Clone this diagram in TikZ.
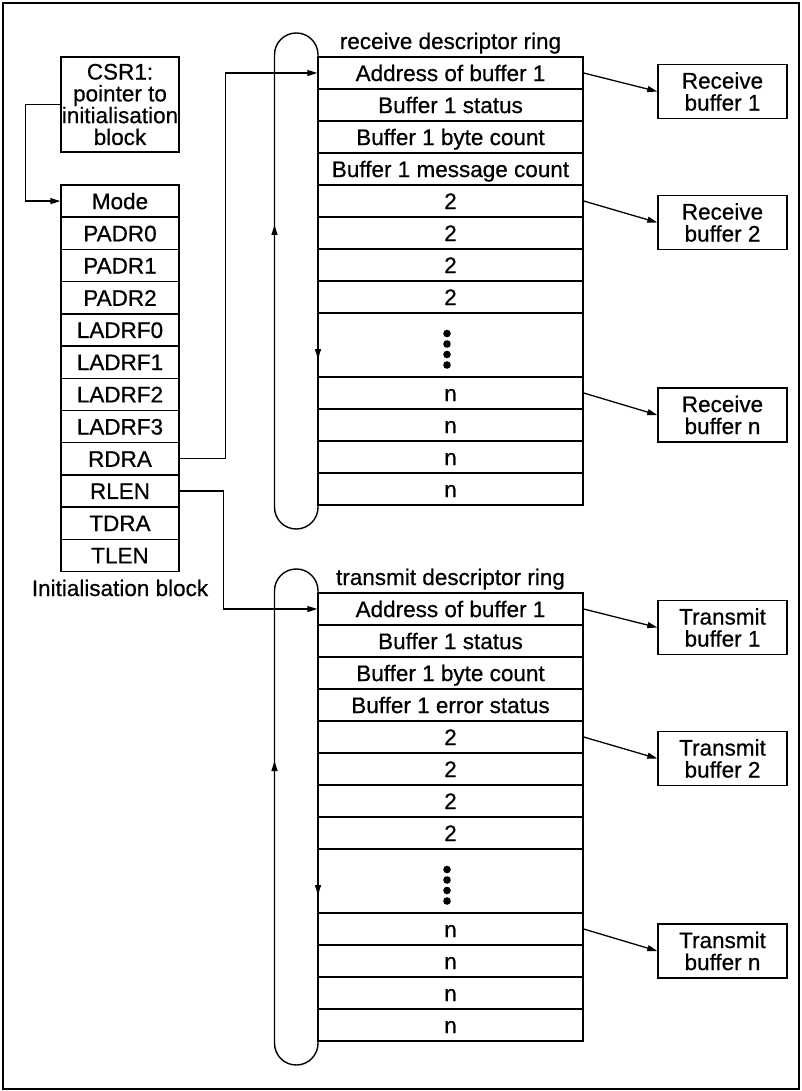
\documentclass[tikz,border=0pt]{standalone}
\usepackage{fontspec}
\setmainfont[FakeBold=0.6]{Liberation Sans}
\usetikzlibrary{arrows.meta}
\tikzset{
  lbl/.style={font=\fontsize{22.5pt}{21.8pt}\selectfont, inner sep=0pt},
  cell/.style={lbl, draw, line width=1.4pt, minimum width=265pt, minimum height=32pt, text height=16.1pt, text depth=0pt},
  icell/.style={lbl, draw, line width=1.4pt, minimum width=118pt, minimum height=32.2pt, text height=16.1pt, text depth=0pt},
  bufbox/.style={lbl, draw, line width=1.4pt, minimum width=129pt, minimum height=54pt, align=center, font=\fontsize{22.5pt}{22pt}\selectfont},
  pill/.style={draw, line width=1.4pt, rounded corners=21.7pt, minimum width=43.5pt, minimum height=496pt, inner sep=0pt},
  conn/.style={line width=1.3pt, -{Triangle[length=10pt,width=6pt]}},
}
\newcommand\descring[5]{%
\begin{scope}[shift={(0,#2)}]
\node[pill] (#1pill) at (296.25,281) {};
\node[lbl, anchor=base] (#1title) at (450.5,49) {#3};
\node[cell] (#1r1) at (450.5,73) {Address of buffer 1};
\node[cell] (#1r2) at (450.5,105) {Buffer 1 status};
\node[cell] (#1r3) at (450.5,137) {Buffer 1 byte count};
\node[cell] (#1r4) at (450.5,169) {#4};
\node[cell] (#1r5) at (450.5,201) {2};
\node[cell] (#1r6) at (450.5,233) {2};
\node[cell] (#1r7) at (450.5,265) {2};
\node[cell] (#1r8) at (450.5,297) {2};
\node[cell, minimum height=64pt] (#1r9) at (450.5,345) {};
\foreach \yy in {333.5,344,354.5,365} \fill (447,\yy) circle[radius=3.8pt];
\node[cell] (#1r10) at (450.5,393) {n};
\node[cell] (#1r11) at (450.5,425) {n};
\node[cell] (#1r12) at (450.5,457) {n};
\node[cell] (#1r13) at (450.5,489) {n};
\draw[conn] (274.5,245) -- (274.5,225);
\draw[conn] (318,338) -- (318,359);
\node[bufbox] (#1b1) at (722.5,91.5) {#5\\buffer 1};
\node[bufbox] (#1b2) at (722.5,222.5) {#5\\buffer 2};
\node[bufbox] (#1bn) at (722.5,415) {#5\\buffer n};
\draw[conn] (#1r1.east) -- (#1b1.west);
\draw[conn] (#1r5.east) -- (#1b2.west);
\draw[conn] (#1r10.east) -- (#1bn.west);
\end{scope}}
\begin{document}
\begin{tikzpicture}[x=1pt,y=-1pt]
\useasboundingbox (0,0) rectangle (801,1091);
\draw[line width=2pt] (3,3) rectangle (798.5,1089);
% initialisation block
\node[lbl, draw, line width=1.4pt, minimum width=118pt, minimum height=95pt, align=center] (csr) at (120,104.5) {CSR1:\\pointer to\\initialisation\\block};
\node[icell] (mode) at (120,201.1) {Mode};
\node[icell] (padr0) at (120,233.3) {PADR0};
\node[icell] (padr1) at (120,265.5) {PADR1};
\node[icell] (padr2) at (120,297.7) {PADR2};
\node[icell] (ladrf0) at (120,329.9) {LADRF0};
\node[icell] (ladrf1) at (120,362.1) {LADRF1};
\node[icell] (ladrf2) at (120,394.3) {LADRF2};
\node[icell] (ladrf3) at (120,426.5) {LADRF3};
\node[icell] (rdra) at (120,458.7) {RDRA};
\node[icell] (rlen) at (120,490.9) {RLEN};
\node[icell] (tdra) at (120,523.1) {TDRA};
\node[icell] (tlen) at (120,555.3) {TLEN};
\node[lbl, anchor=base] (initlabel) at (120,596) {Initialisation block};
% rings
\descring{R}{0}{receive descriptor ring}{Buffer 1 message count}{Receive}
\descring{T}{536}{transmit descriptor ring}{Buffer 1 error status}{Transmit}
% connectors
\draw[conn] (csr.west) -- ++(-35,0) |- (mode.west);
\draw[conn] (rdra.east) -- ++(46,0) |- (Rr1.west);
\draw[conn] (rlen.east) -- ++(44,0) |- (Tr1.west);
\end{tikzpicture}
\end{document}
